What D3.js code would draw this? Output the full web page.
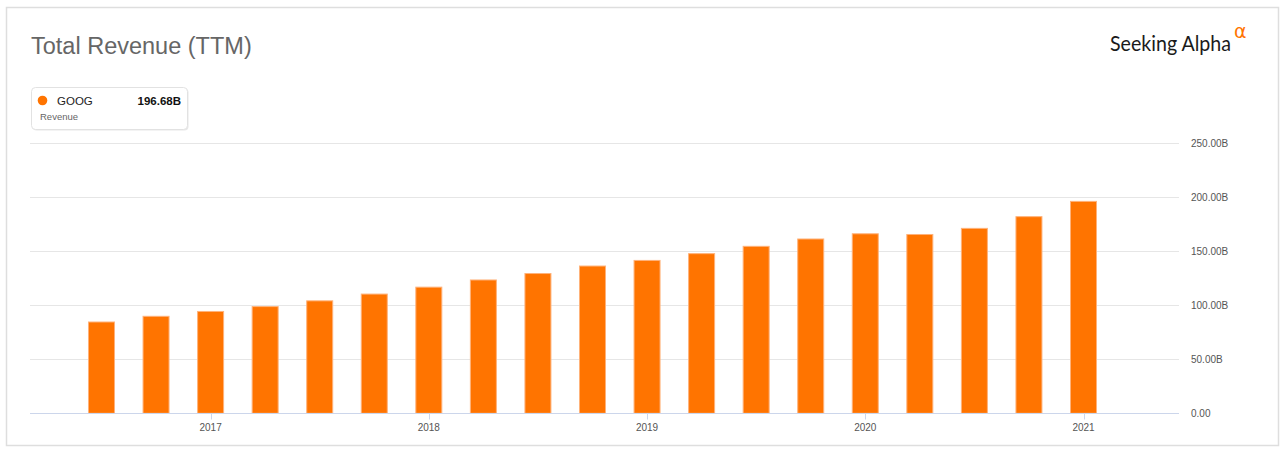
<!DOCTYPE html>
<html>
<head>
<meta charset="utf-8">
<script src="https://cdn.jsdelivr.net/npm/d3@7"></script>
<style>
  body { margin: 0; background: #fff; }
  text { font-family: "Liberation Sans", Arial, sans-serif; }
</style>
</head>
<body>
<div id="chart"></div>
<script>
// quarter ends (TTM) and revenue in billions
const periods = ["2016-Q3", "2016-Q4", "2017-Q1", "2017-Q2", "2017-Q3", "2017-Q4",
                 "2018-Q1", "2018-Q2", "2018-Q3", "2018-Q4", "2019-Q1", "2019-Q2",
                 "2019-Q3", "2019-Q4", "2020-Q1", "2020-Q2", "2020-Q3", "2020-Q4", "2021-Q1"];
const revenue = [85.0, 90.27, 94.76, 99.27, 104.59, 110.86,
                 117.26, 123.91, 129.88, 136.82, 142.01, 148.29,
                 155.06, 161.86, 166.68, 166.03, 171.70, 182.53, 196.68];
const yearTicks = [2017, 2018, 2019, 2020, 2021];
const valueTicks = [0, 50, 100, 150, 200, 250];

const W = 1280, H = 457;
const orange = "#ff7400";

const svg = d3.select("#chart").append("svg")
    .attr("width", W)
    .attr("height", H);

// outer frame
svg.append("rect")
    .attr("x", 6.5).attr("y", 7.5)
    .attr("width", 1272).attr("height", 438)
    .attr("fill", "#fff")
    .attr("stroke", "#dedede")
    .attr("stroke-width", 1.5);

// title
svg.append("text")
    .attr("x", 31).attr("y", 54)
    .style("font-size", "23.5px")
    .style("fill", "#666")
    .text("Total Revenue (TTM)");

// logo
svg.append("text")
    .attr("x", 1110).attr("y", 51)
    .attr("textLength", 121)
    .attr("lengthAdjust", "spacingAndGlyphs")
    .style("font-family", "Lato, 'Noto Sans', sans-serif")
    .style("font-size", "21px")
    .style("fill", "#1a1a1a")
    .text("Seeking Alpha");
svg.append("text")
    .attr("x", 1234).attr("y", 38)
    .style("font-family", "'DejaVu Sans', sans-serif")
    .style("font-size", "19px")
    .style("fill", orange)
    .text("α");

// legend box
const legend = svg.append("g");
legend.append("rect")
    .attr("x", 32.5).attr("y", 88.5)
    .attr("width", 156).attr("height", 42)
    .attr("rx", 4)
    .attr("fill", "#e8e8e8");
legend.append("rect")
    .attr("x", 31.5).attr("y", 87.5)
    .attr("width", 156).attr("height", 42)
    .attr("rx", 4)
    .attr("fill", "#fff")
    .attr("stroke", "#e2e2e2");
legend.append("circle")
    .attr("cx", 42.5).attr("cy", 100.5)
    .attr("r", 4.8)
    .attr("fill", orange);
legend.append("text")
    .attr("x", 57).attr("y", 105)
    .style("font-size", "11.5px")
    .style("fill", "#222")
    .text("GOOG");
legend.append("text")
    .attr("x", 181).attr("y", 105)
    .attr("text-anchor", "end")
    .style("font-size", "11.5px")
    .style("font-weight", "bold")
    .style("fill", "#111")
    .text(d3.format(".2f")(revenue[revenue.length - 1]) + "B");
legend.append("text")
    .attr("x", 40).attr("y", 119.5)
    .style("font-size", "9.5px")
    .style("fill", "#666")
    .text("Revenue");

// scales
const plotLeft = 30, plotRight = 1179;
const toYear = p => +p.slice(0, 4) + (+p.slice(6) - 1) / 4;

const xScale = d3.scaleLinear()
    .domain([2017, 2021])
    .range([210.6, 1083.5]);

const yScale = d3.scaleLinear()
    .domain([0, 250])
    .range([413.3, 143.3]);

// gridlines
svg.append("g")
    .selectAll("line")
    .data(valueTicks.slice(1))
    .join("line")
    .attr("x1", plotLeft).attr("x2", plotRight)
    .attr("y1", d => Math.round(yScale(d)) + 0.5)
    .attr("y2", d => Math.round(yScale(d)) + 0.5)
    .attr("stroke", "#e6e6e6");

// y labels on the right
svg.append("g")
    .selectAll("text")
    .data(valueTicks)
    .join("text")
    .attr("x", 1191)
    .attr("y", d => yScale(d))
    .attr("dy", "0.35em")
    .style("font-size", "10px")
    .style("fill", "#555")
    .text(d => d === 0 ? "0.00" : d3.format(".2f")(d) + "B");

// bars
const barW = 27;
svg.append("g")
    .selectAll("rect")
    .data(periods)
    .join("rect")
    .attr("x", (d, i) => xScale(toYear(d)) - barW / 2 + 0.5)
    .attr("y", (d, i) => yScale(revenue[i]) + 0.5)
    .attr("width", barW - 1)
    .attr("height", (d, i) => yScale(0) - yScale(revenue[i]) - 0.5)
    .attr("fill", orange)
    .attr("stroke", "#ffb27a")
    .attr("stroke-width", 1);

// x axis line + ticks
const base = Math.round(yScale(0)) + 0.5;
svg.append("line")
    .attr("x1", plotLeft).attr("x2", plotRight)
    .attr("y1", base).attr("y2", base)
    .attr("stroke", "#ccd6eb");

const xAxis = svg.append("g");
xAxis.selectAll("line")
    .data(yearTicks)
    .join("line")
    .attr("x1", d => Math.round(xScale(d)) + 0.5)
    .attr("x2", d => Math.round(xScale(d)) + 0.5)
    .attr("y1", base).attr("y2", base + 6)
    .attr("stroke", "#ccd6eb");
xAxis.selectAll("text")
    .data(yearTicks)
    .join("text")
    .attr("x", d => xScale(d))
    .attr("y", 431)
    .attr("text-anchor", "middle")
    .style("font-size", "10px")
    .style("fill", "#555")
    .text(d => d);
</script>
</body>
</html>
